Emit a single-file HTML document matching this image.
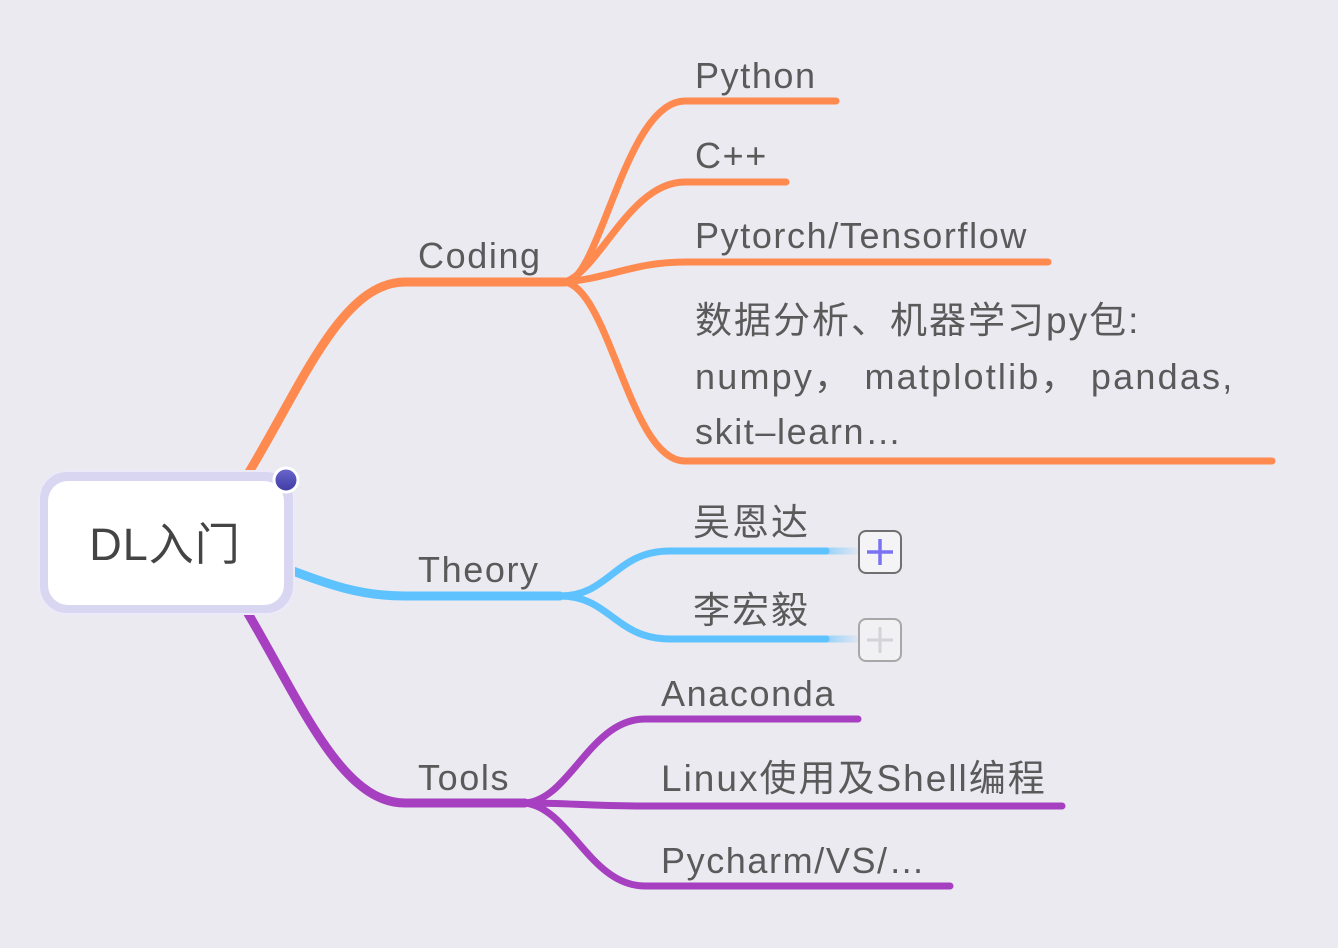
<!DOCTYPE html>
<html><head><meta charset="utf-8"><style>
html,body{margin:0;padding:0;background:#ebeaf1;}
svg{display:block}
text{font-family:"Liberation Sans","Noto Sans CJK SC",sans-serif;fill:#5a5a5a;font-size:36px;letter-spacing:1.6px;}
.c{font-size:37px;letter-spacing:2px;}
</style></head><body>
<svg width="1338" height="948" viewBox="0 0 1338 948" xmlns="http://www.w3.org/2000/svg">
<defs>
<linearGradient id="fade" x1="0" x2="1"><stop offset="0" stop-color="#5ec2ff" stop-opacity="0.6"/><stop offset="1" stop-color="#5ec2ff" stop-opacity="0.05"/></linearGradient>
<linearGradient id="dot" x1="0" y1="0" x2="0" y2="1"><stop offset="0" stop-color="#6a68d0"/><stop offset="1" stop-color="#3d3aa0"/></linearGradient>
</defs>
<g fill="none" stroke-linecap="round">
<g stroke="#ff8a4f">
<path d="M243,482 C300,390 340,282 405,282 L565,282" stroke-width="9"/>
<path d="M565,282 C600,282 625,101 685,101 L836,101" stroke-width="7"/>
<path d="M565,282 C600,270 630,182 685,182 L786,182" stroke-width="7"/>
<path d="M565,282 C610,278 635,262 685,262 L1048,262" stroke-width="7"/>
<path d="M565,282 C610,290 630,461 685,461 L1272,461" stroke-width="7"/>
</g>
<g stroke="#5ec2ff">
<path d="M285,568 C330,585 360,596 405,596 L560,596" stroke-width="9"/>
<path d="M560,596 C610,596 615,551 670,551 L826,551" stroke-width="7"/>
<path d="M560,596 C610,596 615,639 670,639 L826,639" stroke-width="7"/>
</g>
<path d="M826,551 L860,551 M826,639 L860,639" stroke="url(#fade)" stroke-width="7" stroke-linecap="butt"/>
<g stroke="#a640c0">
<path d="M243,605 C300,700 340,803 405,803 L525,803" stroke-width="9"/>
<path d="M525,803 C570,800 590,719 645,719 L858,719" stroke-width="7"/>
<path d="M525,803 C570,803 590,806 645,806 L1062,806" stroke-width="7"/>
<path d="M525,803 C570,808 590,886 645,886 L950,886" stroke-width="7"/>
</g>
</g>
<rect x="39" y="471" width="255" height="143" rx="28" fill="#d9d6f2" stroke="#eceaf8" stroke-width="2"/>
<rect x="48" y="481" width="236" height="124" rx="20" fill="#fff"/>
<circle cx="286" cy="480" r="12" fill="url(#dot)" stroke="#fff" stroke-width="3"/>
<text x="165" y="560" text-anchor="middle" style="font-size:45px;fill:#444;letter-spacing:1px">DL入门</text>
<text x="418" y="268">Coding</text>
<text x="418" y="582">Theory</text>
<text x="418" y="790">Tools</text>
<text x="695" y="88">Python</text>
<text x="695" y="168">C++</text>
<text x="695" y="248">Pytorch/Tensorflow</text>
<text x="695" y="333" class="c">数据分析、机器学习py包:</text>
<text x="695" y="389" style="letter-spacing:2.2px">numpy，&#160;matplotlib，&#160;pandas,</text>
<text x="695" y="444">skit–learn…</text>
<text x="693" y="535" class="c">吴恩达</text>
<text x="693" y="623" class="c">李宏毅</text>
<text x="661" y="706">Anaconda</text>
<text x="661" y="791" class="c">Linux使用及Shell编程</text>
<text x="661" y="873">Pycharm/VS/…</text>
<rect x="859" y="531" width="42" height="42" rx="7" fill="#f4f4f7" stroke="#707070" stroke-width="2"/>
<path d="M867,552 H893 M880,539 V565" stroke="#7a72f0" stroke-width="3.5"/>
<rect x="859" y="619" width="42" height="42" rx="7" fill="#f1f1f4" stroke="#a8a8a8" stroke-width="2"/>
<path d="M867,640 H893 M880,627 V653" stroke="#d4d4d8" stroke-width="3"/>
</svg>
</body></html>
